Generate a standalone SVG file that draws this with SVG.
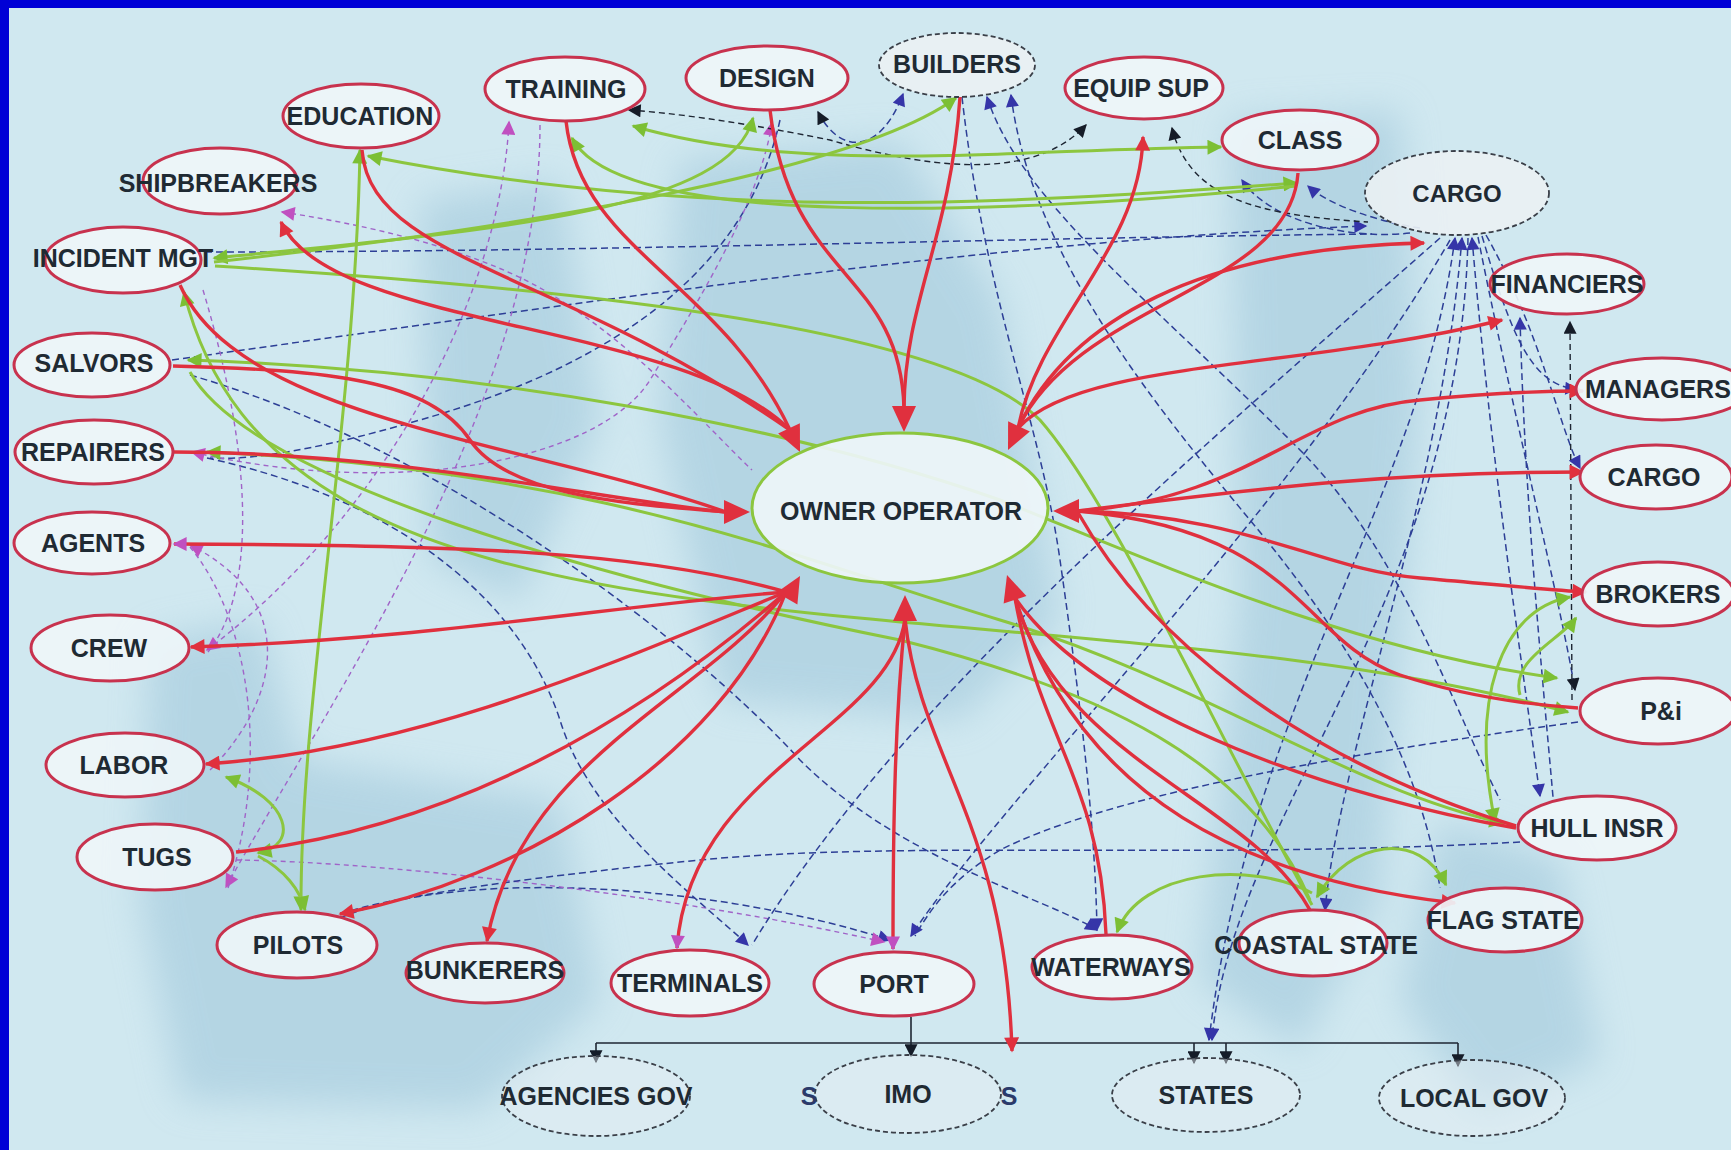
<svg xmlns="http://www.w3.org/2000/svg" width="1731" height="1150" viewBox="0 0 1731 1150">
<defs>
<style>
.n ellipse{fill:#eef5f8;fill-opacity:0.92;stroke:#c8324e;stroke-width:3}
.g ellipse{fill:#e9f0f3;fill-opacity:0.45;stroke:#3a3f48;stroke-width:1.8;stroke-dasharray:5 3}
text{font-family:"Liberation Sans",Arial,sans-serif;font-weight:bold;font-size:25px;fill:#1f2a33;text-anchor:middle}
.r{fill:none;stroke:#e0303e;stroke-width:3.4}
.gr{fill:none;stroke:#8cc63f;stroke-width:3}
.b{fill:none;stroke:#2d3f96;stroke-width:1.5;stroke-dasharray:7 4}
.p{fill:none;stroke:#a064c8;stroke-width:1.4;stroke-dasharray:5 4}
.k{fill:none;stroke:#1e2633;stroke-width:1.6}
.kd{fill:none;stroke:#1e2633;stroke-width:1.4;stroke-dasharray:6 4}
</style>
<marker id="arR" viewBox="0 0 10 10" refX="9" refY="5" markerWidth="17" markerHeight="15" markerUnits="userSpaceOnUse" orient="auto-start-reverse"><path d="M0,0L10,5L0,10z" fill="#e0303e"/></marker>
<marker id="arG" viewBox="0 0 10 10" refX="9" refY="5" markerWidth="17" markerHeight="15" markerUnits="userSpaceOnUse" orient="auto-start-reverse"><path d="M0,0L10,5L0,10z" fill="#7cbf34"/></marker>
<marker id="arB" viewBox="0 0 10 10" refX="9" refY="5" markerWidth="14" markerHeight="13" markerUnits="userSpaceOnUse" orient="auto-start-reverse"><path d="M0,0L10,5L0,10z" fill="#3535a8"/></marker>
<marker id="arK" viewBox="0 0 10 10" refX="9" refY="5" markerWidth="14" markerHeight="13" markerUnits="userSpaceOnUse" orient="auto-start-reverse"><path d="M0,0L10,5L0,10z" fill="#151c28"/></marker>
<marker id="arP" viewBox="0 0 10 10" refX="9" refY="5" markerWidth="15" markerHeight="14" markerUnits="userSpaceOnUse" orient="auto-start-reverse"><path d="M0,0L10,5L0,10z" fill="#c050c0"/></marker>
<path id="big" d="M0,0 L-26,-12 L-26,12 z" fill="#e0303e"/>
<filter id="blur" x="-20%" y="-20%" width="140%" height="140%"><feGaussianBlur stdDeviation="18"/></filter>
</defs>

<!-- background -->
<rect x="0" y="0" width="1731" height="1150" fill="#d0e8f0"/>
<g filter="url(#blur)" fill="#9ec6da" opacity="0.55">
<path d="M150,640 L260,620 L300,760 L560,800 L600,1000 L480,1110 L180,1100 L140,900 Z"/>
<path d="M680,160 L900,140 L1000,300 L1060,620 L960,720 L720,700 L660,420 Z"/>
<path d="M1230,120 L1400,110 L1420,400 L1380,900 L1300,1050 L1200,980 L1240,600 Z"/>
<path d="M420,200 L560,180 L600,420 L520,600 L430,560 Z"/>
<path d="M1440,820 L1560,860 L1600,1060 L1480,1110 L1400,1000 Z"/>
</g>
<rect x="0" y="0" width="1731" height="8" fill="#0000d6"/>
<rect x="0" y="0" width="9" height="1150" fill="#0000d6"/>

<g id="connectors">
<!-- blue dashed -->
<path class="b" d="M1455,238 C1420,500 1250,700 1209,1040" marker-start="url(#arB)" marker-end="url(#arB)"/>
<path class="b" d="M1468,238 C1460,600 1230,820 1212,1040" marker-end="url(#arB)"/>
<path class="b" d="M1462,238 C1440,500 1340,750 1325,910" marker-start="url(#arB)" marker-end="url(#arB)"/>
<path class="b" d="M1472,238 C1490,450 1520,650 1540,796" marker-start="url(#arB)" marker-end="url(#arB)"/>
<path class="b" d="M1478,237 C1510,400 1560,600 1575,690" marker-end="url(#arK)"/>
<path class="b" d="M1482,236 C1510,330 1530,386 1577,389" marker-end="url(#arB)"/>
<path class="b" d="M1486,235 C1540,330 1560,430 1580,468" marker-end="url(#arB)"/>
<path class="b" d="M1420,228 C1380,222 1330,206 1308,186" marker-end="url(#arB)"/>
<path class="b" d="M1410,233 C1350,240 1270,222 1242,180" marker-end="url(#arB)"/>
<path class="b" d="M172,360 C600,300 1000,240 1366,226" marker-end="url(#arB)"/>
<path class="b" d="M205,252 C600,252 1000,238 1372,234"/>
<path class="b" d="M1520,318 C1525,500 1540,650 1553,797" marker-start="url(#arB)"/>
<path class="kd" d="M1572,700 L1570,322" marker-end="url(#arK)"/>
<path class="b" d="M818,112 C840,155 880,155 903,94" marker-start="url(#arK)" marker-end="url(#arB)"/>
<path class="b" d="M987,97 C1020,200 1150,300 1300,450 C1400,550 1450,700 1500,800" marker-start="url(#arB)"/>
<path class="b" d="M1011,95 C1030,250 1150,400 1250,520 C1350,640 1420,760 1440,888" marker-start="url(#arB)"/>
<path class="b" d="M962,97 C985,300 1040,420 1060,560 C1080,700 1095,820 1097,930" marker-end="url(#arB)"/>
<path class="b" d="M340,918 C450,870 700,880 890,940" marker-end="url(#arB)"/>
<path class="p" d="M236,860 C400,862 700,900 884,942" marker-end="url(#arP)"/>
<path class="b" d="M190,375 C450,450 700,650 800,760 C900,860 1050,900 1097,930" marker-end="url(#arB)"/>
<path class="b" d="M207,458 C400,500 520,600 560,720 C590,820 700,900 748,945" marker-end="url(#arB)"/>
<path class="b" d="M1450,240 C1300,500 1000,800 911,936" marker-end="url(#arB)"/>
<path class="b" d="M1440,238 C1200,450 900,700 752,945"/>
<path class="b" d="M1520,842 C1200,860 900,840 700,860 C500,880 380,900 348,912"/>
<path class="b" d="M1578,722 C1300,760 1100,800 1000,850 C950,880 930,910 915,936"/>
<path class="b" d="M780,120 C740,300 560,380 420,420 C300,455 240,460 210,458"/>
<!-- purple dashed -->
<path class="p" d="M282,212 C400,230 500,260 560,300 C640,350 700,420 752,470" marker-start="url(#arP)"/>
<path class="p" d="M509,122 C500,300 380,520 207,650" marker-start="url(#arP)" marker-end="url(#arP)"/>
<path class="p" d="M540,125 C540,400 330,700 226,887" marker-end="url(#arP)"/>
<path class="p" d="M203,290 C260,480 250,600 208,652"/>
<path class="p" d="M190,547 C250,620 270,760 228,888"/>
<path class="p" d="M772,123 C760,200 700,300 650,380 C600,460 400,500 192,452" marker-start="url(#arP)" marker-end="url(#arP)"/>
<path class="p" d="M210,770 C280,700 300,600 190,545" marker-end="url(#arP)"/>
<!-- black -->
<path class="kd" d="M629,110 C700,115 780,130 830,140 C950,175 1040,175 1086,125" marker-start="url(#arK)" marker-end="url(#arK)"/>
<path class="kd" d="M1172,128 C1190,200 1260,215 1368,222" marker-start="url(#arK)"/>
<path class="k" d="M911,1017 L911,1056" marker-end="url(#arK)"/>
<path class="k" d="M596,1043 L1458,1043"/>
<path class="k" d="M596,1043 L596,1062" marker-end="url(#arK)"/>
<path class="k" d="M1194,1043 L1194,1063" marker-end="url(#arK)"/>
<path class="k" d="M1226,1043 L1226,1063" marker-end="url(#arK)"/>
<path class="k" d="M1458,1043 L1458,1066" marker-end="url(#arK)"/>
<!-- green -->
<path class="gr" d="M360,150 C355,420 300,700 301,910" marker-start="url(#arG)" marker-end="url(#arG)"/>
<path class="gr" d="M1221,147 C1000,150 800,175 633,126" marker-start="url(#arG)" marker-end="url(#arG)"/>
<path class="gr" d="M1297,183 C1000,205 700,222 368,156" marker-start="url(#arG)" marker-end="url(#arG)"/>
<path class="gr" d="M753,118 C730,210 500,230 214,258" marker-start="url(#arG)" marker-end="url(#arG)"/>
<path class="gr" d="M956,98 C850,175 500,230 214,262" marker-start="url(#arG)"/>
<path class="gr" d="M572,138 C620,230 1000,215 1297,186" marker-start="url(#arG)"/>
<path class="gr" d="M215,266 C600,290 950,330 1040,420 C1110,500 1200,700 1312,905"/>
<path class="gr" d="M184,292 C230,480 400,560 700,600 C1000,640 1300,640 1568,712" marker-start="url(#arG)" marker-end="url(#arG)"/>
<path class="gr" d="M188,360 C500,370 800,430 1000,500 C1150,560 1350,650 1557,678" marker-start="url(#arG)" marker-end="url(#arG)"/>
<path class="gr" d="M207,452 C600,470 800,560 1000,620 C1200,680 1350,790 1503,823" marker-start="url(#arG)" marker-end="url(#arG)"/>
<path class="gr" d="M190,372 C250,480 600,580 900,640 C1100,690 1250,760 1310,900"/>
<path class="gr" d="M226,777 C290,800 300,845 258,853" marker-start="url(#arG)" marker-end="url(#arG)"/>
<path class="gr" d="M258,856 C285,870 300,890 305,910" marker-end="url(#arG)"/>
<path class="gr" d="M1317,897 C1350,840 1420,830 1446,885" marker-start="url(#arG)" marker-end="url(#arG)"/>
<path class="gr" d="M1312,893 C1250,860 1140,870 1117,932" marker-end="url(#arG)"/>
<path class="gr" d="M1495,822 C1470,700 1500,610 1570,597" marker-start="url(#arG)" marker-end="url(#arG)"/>
<path class="gr" d="M1520,695 C1510,660 1560,640 1576,618" marker-end="url(#arG)"/>
<!-- red -->
<path class="r" d="M566,121 C580,250 720,280 790,430"/>
<path class="r" d="M362,150 C370,260 560,270 790,430"/>
<path class="r" d="M790,430 C680,320 330,330 281,222" marker-end="url(#arR)"/>
<path class="r" d="M173,366 C330,370 430,380 470,440 C510,500 650,505 726,512"/>
<path class="r" d="M174,452 C400,452 600,500 726,512"/>
<path class="r" d="M180,285 C240,420 520,440 726,512"/>
<path class="r" d="M786,592 C640,550 450,545 174,544" marker-end="url(#arP)"/>
<path class="r" d="M786,592 C620,605 420,640 191,647" marker-end="url(#arR)"/>
<path class="r" d="M786,592 C620,660 420,750 206,764" marker-end="url(#arR)"/>
<path class="r" d="M786,592 C640,720 450,830 236,852"/>
<path class="r" d="M786,592 C720,760 520,880 340,914" marker-end="url(#arR)"/>
<path class="r" d="M786,592 C700,700 520,760 487,941" marker-end="url(#arR)"/>
<path class="r" d="M905,619 C890,730 690,770 677,948" marker-end="url(#arP)"/>
<path class="r" d="M905,619 C895,720 893,820 893,949" marker-end="url(#arP)"/>
<path class="r" d="M905,619 C920,760 1005,820 1012,1051" marker-end="url(#arR)"/>
<path class="r" d="M1015,598 C1040,740 1100,780 1106,934"/>
<path class="r" d="M1015,598 C1060,760 1250,800 1310,910"/>
<path class="r" d="M1015,598 C1080,800 1250,880 1455,903" marker-end="url(#arR)"/>
<path class="r" d="M1015,598 C1100,720 1350,800 1516,828"/>
<path class="r" d="M1077,511 C1250,500 1300,410 1420,400 C1490,393 1540,391 1583,391" marker-end="url(#arR)"/>
<path class="r" d="M1077,511 C1250,490 1380,472 1583,472" marker-end="url(#arR)"/>
<path class="r" d="M1077,511 C1250,515 1320,570 1420,578 C1500,585 1550,590 1586,592" marker-end="url(#arR)"/>
<path class="r" d="M1077,511 C1300,530 1300,640 1400,675 C1460,695 1520,704 1578,708"/>
<path class="r" d="M1077,511 C1150,640 1300,760 1516,826"/>
<path class="r" d="M1018,428 C1040,320 1140,250 1143,137" marker-end="url(#arR)"/>
<path class="r" d="M1018,428 C1080,300 1290,290 1298,173"/>
<path class="r" d="M1018,428 C1070,320 1200,248 1424,243" marker-end="url(#arR)"/>
<path class="r" d="M1018,428 C1080,360 1300,370 1502,320" marker-end="url(#arR)"/>
<path class="r" d="M770,110 C790,280 900,270 904,408"/>
<path class="r" d="M960,97 C950,240 905,300 904,408"/>
<!-- big arrowheads at OWNER OPERATOR -->
<use href="#big" transform="translate(800,452) rotate(65)"/>
<use href="#big" transform="translate(904,432) rotate(90)"/>
<use href="#big" transform="translate(1008,450) rotate(115)"/>
<use href="#big" transform="translate(750,512) rotate(0)"/>
<use href="#big" transform="translate(1053,511) rotate(180)"/>
<use href="#big" transform="translate(800,576) rotate(-60)"/>
<use href="#big" transform="translate(905,595) rotate(-90)"/>
<use href="#big" transform="translate(1007,575) rotate(-108)"/>
</g>

<g id="n-owner" class="n"><ellipse cx="900" cy="508" rx="148" ry="75" style="stroke:#8cc63f;stroke-width:3"/><text x="901" y="520">OWNER OPERATOR</text></g>
<g id="n-education" class="n"><ellipse cx="361" cy="116" rx="78" ry="32"/><text x="360" y="125">EDUCATION</text></g>
<g id="n-training" class="n"><ellipse cx="565" cy="89" rx="80" ry="32"/><text x="566" y="98">TRAINING</text></g>
<g id="n-design" class="n"><ellipse cx="767" cy="78" rx="81" ry="32"/><text x="767" y="87">DESIGN</text></g>
<g id="n-builders" class="g"><ellipse cx="957" cy="65" rx="78" ry="32" style="fill-opacity:0.92"/><text x="957" y="73">BUILDERS</text></g>
<g id="n-equip" class="n"><ellipse cx="1144" cy="88" rx="79" ry="31"/><text x="1141" y="97">EQUIP SUP</text></g>
<g id="n-class" class="n"><ellipse cx="1300" cy="140" rx="78" ry="30"/><text x="1300" y="149">CLASS</text></g>
<g id="n-cargo-top" class="g"><ellipse cx="1457" cy="193" rx="92" ry="42" style="fill-opacity:0.92"/><text x="1457" y="202" style="font-size:24px">CARGO</text></g>
<g id="n-financiers" class="n"><ellipse cx="1567" cy="284" rx="77" ry="30"/><text x="1567" y="293">FINANCIERS</text></g>
<g id="n-managers" class="n"><ellipse cx="1662" cy="389" rx="86" ry="31"/><text x="1585" y="398" style="text-anchor:start">MANAGERS</text></g>
<g id="n-cargo-right" class="n"><ellipse cx="1656" cy="477" rx="76" ry="32"/><text x="1654" y="486">CARGO</text></g>
<g id="n-brokers" class="n"><ellipse cx="1658" cy="594" rx="76" ry="32"/><text x="1658" y="603">BROKERS</text></g>
<g id="n-pi" class="n"><ellipse cx="1658" cy="711" rx="78" ry="33"/><text x="1661" y="720">P&amp;i</text></g>
<g id="n-hull" class="n"><ellipse cx="1597" cy="828" rx="79" ry="32"/><text x="1597" y="837">HULL INSR</text></g>
<g id="n-flag" class="n"><ellipse cx="1505" cy="920" rx="77" ry="32"/><text x="1503" y="929">FLAG STATE</text></g>
<g id="n-coastal" class="n"><ellipse cx="1313" cy="943" rx="74" ry="33"/><text x="1316" y="954">COASTAL STATE</text></g>
<g id="n-waterways" class="n"><ellipse cx="1112" cy="967" rx="80" ry="32"/><text x="1111" y="976">WATERWAYS</text></g>
<g id="n-port" class="n"><ellipse cx="894" cy="984" rx="80" ry="32"/><text x="894" y="993">PORT</text></g>
<g id="n-terminals" class="n"><ellipse cx="690" cy="983" rx="79" ry="33"/><text x="690" y="992">TERMINALS</text></g>
<g id="n-bunkerers" class="n"><ellipse cx="485" cy="973" rx="79" ry="30"/><text x="485" y="979">BUNKERERS</text></g>
<g id="n-pilots" class="n"><ellipse cx="297" cy="945" rx="80" ry="33"/><text x="298" y="954">PILOTS</text></g>
<g id="n-tugs" class="n"><ellipse cx="155" cy="857" rx="78" ry="33"/><text x="157" y="866">TUGS</text></g>
<g id="n-labor" class="n"><ellipse cx="125" cy="765" rx="79" ry="32"/><text x="124" y="774">LABOR</text></g>
<g id="n-crew" class="n"><ellipse cx="110" cy="648" rx="79" ry="33"/><text x="109" y="657">CREW</text></g>
<g id="n-agents" class="n"><ellipse cx="92" cy="543" rx="78" ry="31"/><text x="93" y="552">AGENTS</text></g>
<g id="n-repairers" class="n"><ellipse cx="94" cy="452" rx="79" ry="32"/><text x="93" y="461">REPAIRERS</text></g>
<g id="n-salvors" class="n"><ellipse cx="92" cy="365" rx="78" ry="32"/><text x="94" y="372">SALVORS</text></g>
<g id="n-incident" class="n"><ellipse cx="123" cy="260" rx="78" ry="33"/><text x="123" y="267">INCIDENT MGT</text></g>
<g id="n-shipbreakers" class="n"><ellipse cx="220" cy="181" rx="77" ry="33"/><text x="218" y="192">SHIPBREAKERS</text></g>
<g id="n-agencies" class="g"><ellipse cx="596" cy="1096" rx="94" ry="40"/><text x="596" y="1105">AGENCIES GOV</text></g>
<g id="n-imo" class="g"><ellipse cx="908" cy="1094" rx="93" ry="39"/><text x="908" y="1103">IMO</text><text x="809" y="1105" style="fill:#2a3a6a">S</text><text x="1009" y="1105" style="fill:#2a3a6a">S</text></g>
<g id="n-states" class="g"><ellipse cx="1206" cy="1095" rx="94" ry="37"/><text x="1206" y="1104">STATES</text></g>
<g id="n-localgov" class="g"><ellipse cx="1472" cy="1098" rx="93" ry="38"/><text x="1474" y="1107">LOCAL GOV</text></g>
</svg>
